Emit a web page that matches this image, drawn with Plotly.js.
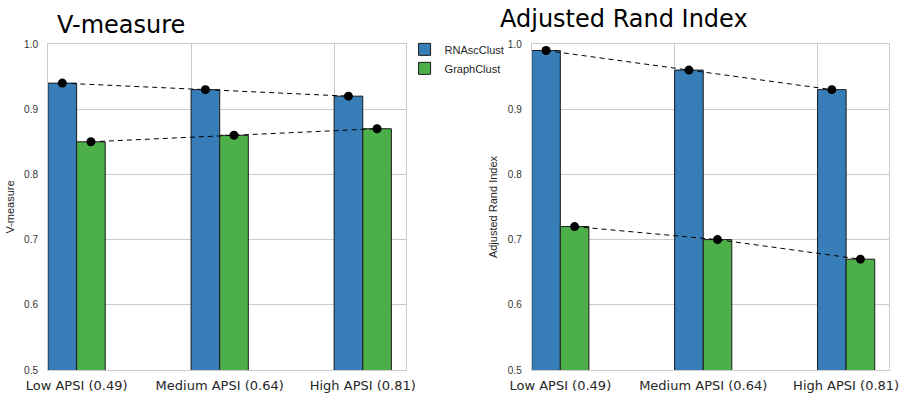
<!DOCTYPE html>
<html>
<head>
<meta charset="utf-8">
<script src="https://cdn.plot.ly/plotly-3.0.1.min.js"></script>
<style>html,body{margin:0;padding:0;background:#fff}#chart{width:901px;height:394px}</style>
</head>
<body>
<div id="chart"></div>
<script>
// ---- data ----
const categories = ["Low APSI (0.49)", "Medium APSI (0.64)", "High APSI (0.81)"];
const groupPos = [0, 1, 2];
const seriesNames = ["RNAscClust", "GraphClust"];
const vmeasureRNAscClust = [0.94, 0.93, 0.92];
const vmeasureGraphClust = [0.85, 0.86, 0.87];
const ariRNAscClust = [0.99, 0.96, 0.93];
const ariGraphClust = [0.72, 0.70, 0.67];
const yTickVals = [0.5, 0.6, 0.7, 0.8, 0.9, 1.0];

// ---- styling ----
const BLUE = "#377eb8", GREEN = "#4daf4a";
const BW = 0.2;
const xBlue = groupPos.map(p => p + BW / 2);
const xGreen = groupPos.map(p => p + BW * 1.5);
const xTick = groupPos.map(p => p + BW);
const edge = {color: "#1a1a1a", width: 1};

function bars(x, y, name, color, xa, ya, show) {
  return {type: "bar", x: x, y: y, width: BW, name: name, marker: {color: color, line: edge},
          xaxis: xa, yaxis: ya, showlegend: show, hoverinfo: "skip"};
}
function dots(x, y, xa, ya) {
  return {type: "scatter", mode: "lines+markers", x: x, y: y, xaxis: xa, yaxis: ya,
          line: {color: "#000", width: 1, dash: "5px,4px"}, marker: {color: "#000", size: 9},
          showlegend: false, hoverinfo: "skip"};
}

const traces = [
  bars(xBlue, vmeasureRNAscClust, seriesNames[0], BLUE, "x", "y", true),
  bars(xGreen, vmeasureGraphClust, seriesNames[1], GREEN, "x", "y", true),
  bars(xBlue, ariRNAscClust, seriesNames[0], BLUE, "x2", "y2", false),
  bars(xGreen, ariGraphClust, seriesNames[1], GREEN, "x2", "y2", false),
  dots(xBlue, vmeasureRNAscClust, "x", "y"),
  dots(xGreen, vmeasureGraphClust, "x", "y"),
  dots(xBlue, ariRNAscClust, "x2", "y2"),
  dots(xGreen, ariGraphClust, "x2", "y2")
];

const GRID = "#cccccc";
function xaxis(domain, anchor) {
  return {domain: domain, anchor: anchor, range: [0, 2.5], tickmode: "array", tickvals: xTick,
          ticktext: categories, showgrid: false, zeroline: false, ticks: "",
          showline: true, mirror: true, linecolor: GRID, linewidth: 1,
          tickfont: {family: "DejaVu Sans", size: 13, color: "#262626"}, ticklabelstandoff: 3,
          minor: {tickmode: "array", tickvals: groupPos, showgrid: true, gridcolor: GRID, gridwidth: 1, ticks: ""}};
}
function yaxis(anchor, title) {
  return {anchor: anchor, range: [0.5, 1.0], tickmode: "array", tickvals: yTickVals, tickformat: ".1f",
          showgrid: true, gridcolor: GRID, gridwidth: 1, zeroline: false, ticks: "",
          showline: true, mirror: true, linecolor: GRID, linewidth: 1,
          tickfont: {family: "Liberation Sans, Arial", size: 10, color: "#333"}, ticklabelstandoff: 7,
          title: {text: title, font: {family: "Liberation Sans, Arial", size: 11, color: "#262626"}, standoff: 7}};
}

const layout = {
  width: 901, height: 394,
  margin: {l: 48, r: 12, t: 44, b: 24},
  paper_bgcolor: "#fff", plot_bgcolor: "#fff",
  barmode: "overlay",
  showlegend: true,
  legend: {x: 0.424, y: 1.028, xanchor: "left", yanchor: "top", bgcolor: "rgba(0,0,0,0)",
           font: {family: "Liberation Sans, Arial", size: 11, color: "#262626"}, tracegroupgap: 0},
  xaxis: xaxis([0, 0.4253], "y"),
  yaxis: yaxis("x", "V-measure"),
  xaxis2: xaxis([0.5752, 1], "y2"),
  yaxis2: yaxis("x2", "Adjusted Rand Index"),
  annotations: [
    {text: "V-measure", xref: "paper", yref: "paper", x: 0.0083, y: 1.058, xanchor: "left", yanchor: "middle",
     showarrow: false, font: {family: "DejaVu Sans", size: 24, color: "#000"}},
    {text: "Adjusted Rand Index", xref: "paper", yref: "paper", x: 0.535, y: 1.077, xanchor: "left", yanchor: "middle",
     showarrow: false, font: {family: "DejaVu Sans", size: 24, color: "#000"}}
  ]
};

Plotly.newPlot("chart", traces, layout, {displayModeBar: false, staticPlot: true});
</script>
</body>
</html>
